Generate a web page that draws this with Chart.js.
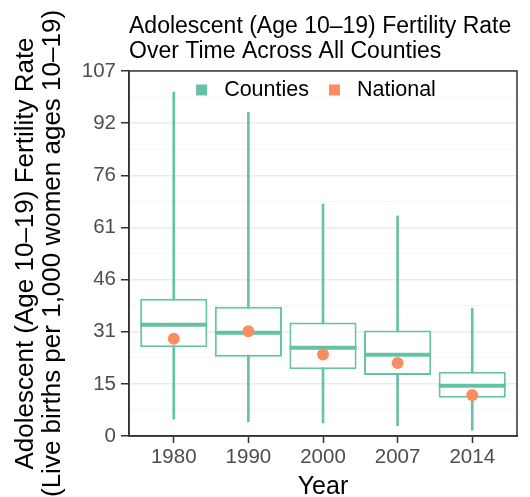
<!DOCTYPE html>
<html>
<head>
<meta charset="utf-8">
<script src="https://cdn.jsdelivr.net/npm/chart.js@4/dist/chart.umd.min.js"></script>
<style>
  html, body { margin: 0; padding: 0; background: #fff; }
  #wrap { width: 530px; height: 497px; }
</style>
</head>
<body>
<div id="wrap"><canvas id="chart"></canvas></div>
<script>
// box plot stats per year
const years = ['1980', '1990', '2000', '2007', '2014'];
const whiskerLow = [4.9, 4.2, 3.8, 3.0, 1.7];
const q1 = [26.0, 23.2, 19.6, 17.9, 11.2];
const median = [32.6, 30.3, 25.9, 23.8, 14.7];
const q3 = [40.2, 37.9, 33.3, 30.9, 18.8];
const whiskerHigh = [100.8, 94.9, 68.0, 64.5, 37.4];
const national = [28.5, 30.7, 23.9, 21.4, 12.0];
const legendLabels = ['Counties', 'National'];

const yMax = 107;
const boxWidth = 0.9;
const teal = '#66c2a5';
const orange = '#fc8d62';
const font = 'Liberation Sans, Arial, Helvetica, sans-serif';

// medians as short horizontal segments, broken by null points
const medianPoints = [];
median.forEach((m, i) => {
    medianPoints.push({ x: i - boxWidth / 2, y: m }, { x: i + boxWidth / 2, y: m }, { x: i + boxWidth / 2, y: null });
});

// outline round the panel
const panelBorder = {
    id: 'panelBorder',
    afterDraw(chart) {
        const a = chart.chartArea;
        const ctx = chart.ctx;
        ctx.save();
        ctx.strokeStyle = '#333333';
        ctx.lineWidth = 1.5;
        ctx.strokeRect(a.left, a.top, a.right - a.left, a.bottom - a.top);
        ctx.restore();
    }
};

// legend sitting inside the panel, top centre
const insideLegend = {
    id: 'insideLegend',
    afterDraw(chart) {
        const a = chart.chartArea;
        const ctx = chart.ctx;
        const colors = [teal, orange];
        ctx.save();
        ctx.font = '21.5px ' + font;
        ctx.textBaseline = 'middle';
        const keyW = 28, gap = 20;
        const widths = legendLabels.map(t => ctx.measureText(t).width);
        const total = widths.reduce((s, w) => s + w + keyW, 0) + gap;
        let x = (a.left + a.right) / 2 - total / 2 - 7;
        const y = a.top + 19;
        legendLabels.forEach((t, i) => {
            ctx.fillStyle = colors[i];
            ctx.fillRect(x, y - 5.5, 11, 11);
            ctx.fillStyle = '#000';
            ctx.fillText(t, x + keyW, y);
            x += keyW + widths[i] + gap;
        });
        ctx.restore();
    }
};

new Chart(document.getElementById('chart'), {
    type: 'bar',
    data: {
        datasets: [{
            label: 'whiskers',
            data: years.map((y, i) => ({ x: i, y: [whiskerLow[i], whiskerHigh[i]] })),
            backgroundColor: teal,
            barThickness: 2,
            grouped: false,
            order: 4
        }, {
            label: 'Counties',
            data: years.map((y, i) => ({ x: i, y: [q1[i], q3[i]] })),
            backgroundColor: '#ffffff',
            borderColor: teal,
            borderWidth: 2,
            borderSkipped: false,
            barPercentage: boxWidth,
            categoryPercentage: 1,
            grouped: false,
            order: 3
        }, {
            type: 'line',
            label: 'median',
            data: medianPoints,
            borderColor: teal,
            borderWidth: 4,
            borderCapStyle: 'butt',
            pointRadius: 0,
            pointHoverRadius: 0,
            spanGaps: false,
            order: 2
        }, {
            type: 'scatter',
            label: 'National',
            data: years.map((y, i) => ({ x: i, y: national[i] })),
            pointRadius: 6,
            pointHoverRadius: 6,
            backgroundColor: orange,
            borderColor: orange,
            borderWidth: 0,
            order: 1
        }]
    },
    options: {
        responsive: true,
        maintainAspectRatio: false,
        animation: false,
        layout: { padding: { top: 0, right: 13, bottom: 0, left: 0 } },
        plugins: {
            title: {
                display: true,
                text: ['Adolescent (Age 10\u201319) Fertility Rate', 'Over Time Across All Counties'],
                align: 'start',
                fullSize: false,
                color: '#000',
                font: { family: font, size: 23, weight: 'normal', lineHeight: 1.06 },
                padding: { top: 14.8, bottom: 7.4 }
            },
            legend: { display: false },
            tooltip: { enabled: false }
        },
        scales: {
            x: {
                type: 'linear',
                min: -0.6,
                max: years.length - 0.4,
                offset: false,
                afterBuildTicks: s => { s.ticks = years.map((y, i) => ({ value: i })); },
                afterFit: s => { s.height = 61; },
                ticks: {
                    autoSkip: false,
                    maxRotation: 0,
                    color: '#4d4d4d',
                    font: { family: font, size: 20.5 },
                    padding: 2,
                    callback: v => years[v]
                },
                grid: { display: true, drawOnChartArea: false, offset: false, tickLength: 7, tickColor: '#333333', tickWidth: 1.5 },
                border: { display: true, color: '#333333', width: 1.5 },
                title: {
                    display: true,
                    text: 'Year',
                    color: '#000',
                    font: { family: font, size: 25, lineHeight: 0.8 },
                    padding: { top: 0, bottom: 0 }
                }
            },
            y: {
                min: 0,
                max: yMax,
                afterBuildTicks: s => {
                    const t = [];
                    for (let k = 0; k <= 14; k++) t.push({ value: k * yMax / 14 });
                    s.ticks = t;
                },
                afterFit: s => { s.width = 129; },
                ticks: {
                    autoSkip: false,
                    color: '#4d4d4d',
                    font: { family: font, size: 20.5 },
                    padding: 5,
                    callback: (v, i) => (i % 2 === 0 ? String(Math.round(v)) : '')
                },
                grid: {
                    color: c => (c.index % 2 === 0 ? '#ebebeb' : '#f2f2f2'),
                    lineWidth: c => (c.index % 2 === 0 ? 1.5 : 0.8),
                    tickLength: 8,
                    tickColor: c => (c.index % 2 === 0 ? '#333333' : 'rgba(0,0,0,0)'),
                    tickWidth: 1.5
                },
                border: { display: true, color: '#333333', width: 1.5 },
                title: {
                    display: true,
                    text: ['Adolescent (Age 10\u201319) Fertility Rate', '(Live births per 1,000 women ages 10\u201319)'],
                    color: '#000',
                    font: { family: font, size: 26, lineHeight: 1.04 },
                    padding: { top: 12, bottom: 0 }
                }
            }
        }
    },
    plugins: [panelBorder, insideLegend]
});
</script>
</body>
</html>
